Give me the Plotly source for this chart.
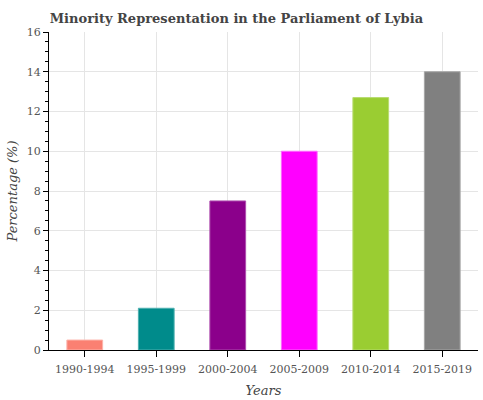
import plotly.graph_objects as go

periods = ['1990-1994', '1995-1999', '2000-2004', '2005-2009', '2010-2014', '2015-2019']
percentages = [0.5, 2.1, 7.5, 10.0, 12.7, 14.0]
bar_colors = ['#fa8072', '#008b8b', '#8b008b', '#ff00ff', '#9acd32', '#808080']
edge_colors = ['#fcb3aa', '#4db0b0', '#ae4dae', '#ff66ff', '#b8dc70', '#a6a6a6']

fig = go.Figure(go.Bar(
    x=periods, y=percentages,
    marker=dict(color=bar_colors, line=dict(color=edge_colors, width=1)),
    width=0.5,
))

font_family = 'DejaVu Serif'
fig.update_layout(
    width=483, height=400,
    margin=dict(l=49, r=5, t=32, b=50),
    paper_bgcolor='white', plot_bgcolor='white',
    showlegend=False,
    font=dict(family=font_family, color='#555555', size=11),
    title=dict(text='<b>Minority Representation in the Parliament of Lybia</b>',
               x=0.103, xanchor='left', y=0.955, yanchor='middle',
               font=dict(family=font_family, size=13, color='#444444')),
)
fig.update_xaxes(
    title=dict(text='<i>Years</i>', font=dict(size=13, color='#444444'), standoff=10),
    showline=True, linecolor='black', linewidth=1,
    ticks='outside', ticklen=6, tickcolor='black', ticklabelstandoff=3,
    showgrid=True, gridcolor='#e5e5e5',
)
fig.update_yaxes(
    title=dict(text='<i>Percentage (%)</i>', font=dict(size=13, color='#444444'), standoff=6),
    range=[0, 16], dtick=2,
    showline=True, linecolor='black', linewidth=1,
    ticks='outside', ticklen=5, tickcolor='black',
    minor=dict(dtick=0.5, ticks='outside', ticklen=3, tickcolor='black', showgrid=False),
    showgrid=True, gridcolor='#e5e5e5',
    zeroline=False,
)

# page has a default body margin, drop it so the figure sits at the corner
fig.write_html("out.html", config={'displayModeBar': False},
               post_script="document.body.style.margin='0';")
